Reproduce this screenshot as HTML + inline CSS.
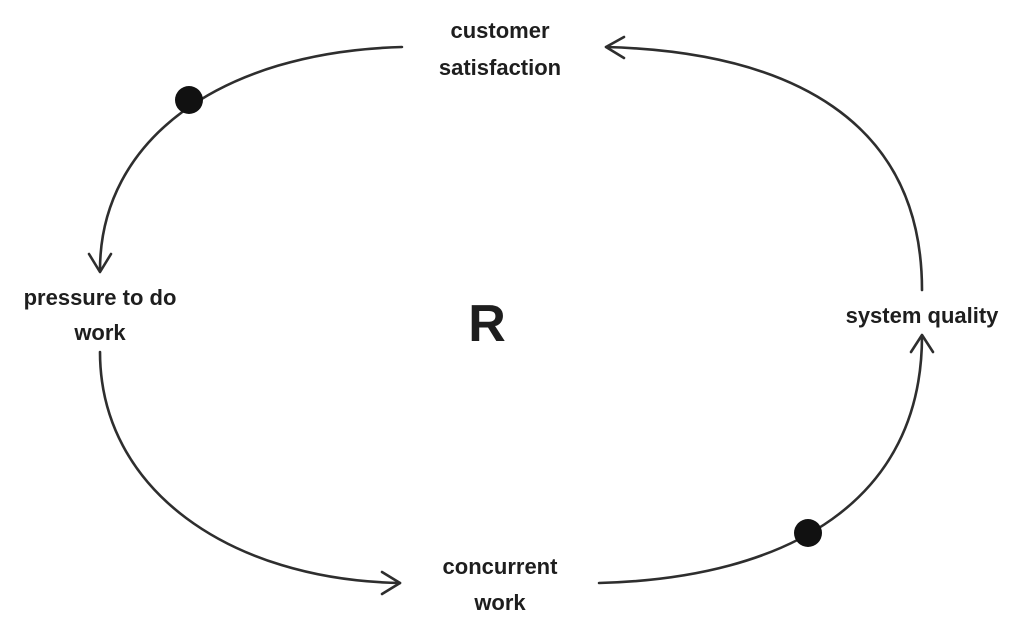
<!DOCTYPE html>
<html><head><meta charset="utf-8"><style>
html,body{margin:0;padding:0;background:#fff;}
svg{display:block}
text{font-family:"Liberation Sans",sans-serif;font-weight:bold;fill:#1e1e1e;}
</style></head><body>
<svg width="1030" height="635" viewBox="0 0 1030 635" xmlns="http://www.w3.org/2000/svg">
<g fill="none" stroke="#2e2e2e" stroke-width="2.6" stroke-linecap="round" stroke-linejoin="round">
<path d="M402,47 C220,52 100,140 100,270"/>
<path d="M922,290 C922,120 790,52 606,47"/>
<path d="M100,352 C100,490 230,580 400,583"/>
<path d="M599,583 C790,578 922,500 922,336"/>
<!-- arrowheads -->
<path d="M89,254 L100,272 L111,254"/>
<path d="M624,37 L606,47 L624,58"/>
<path d="M382,572 L400,583 L382,594"/>
<path d="M911,352 L922,335 L933,352"/>
</g>
<circle cx="189" cy="100" r="14" fill="#111"/>
<circle cx="808" cy="533" r="14" fill="#111"/>
<g font-size="22" text-anchor="middle">
<text x="500" y="38">customer</text>
<text x="500" y="75">satisfaction</text>
<text x="100" y="305">pressure to do</text>
<text x="100" y="340">work</text>
<text x="922" y="323">system quality</text>
<text x="500" y="574">concurrent</text>
<text x="500" y="610">work</text>
</g>
<text x="487" y="341" font-size="52" text-anchor="middle">R</text>
</svg>
</body></html>
